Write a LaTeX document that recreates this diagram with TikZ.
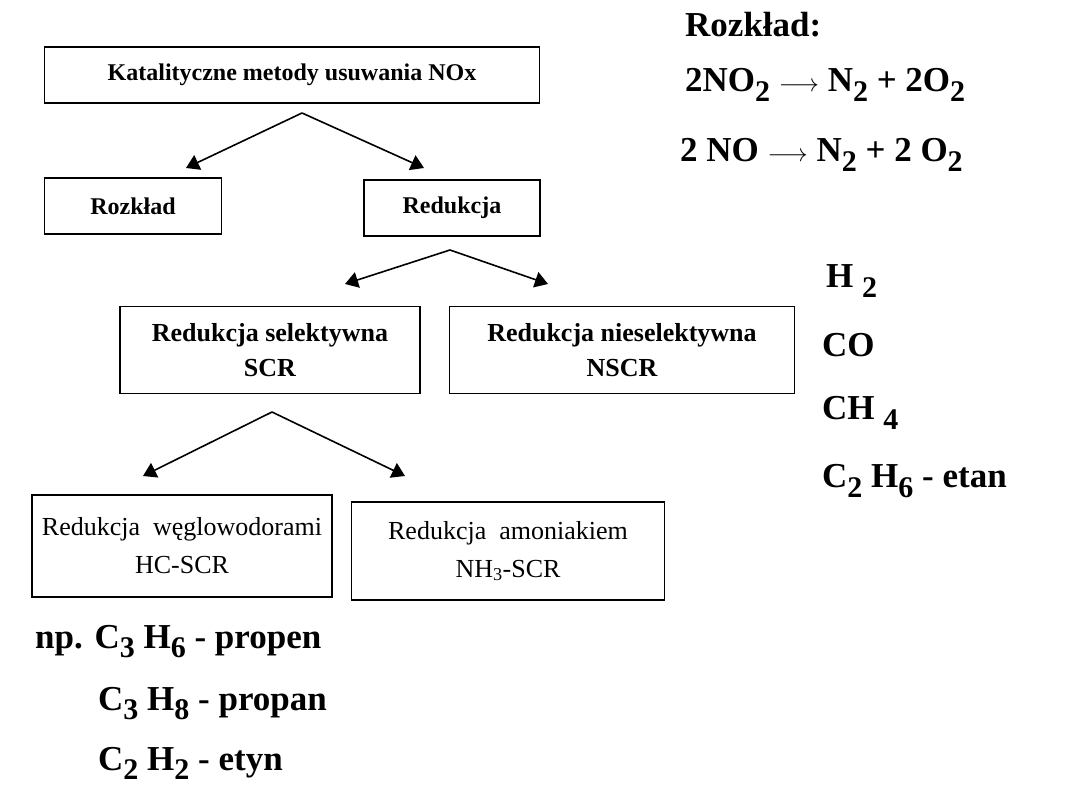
\documentclass[tikz,border=0pt]{standalone}
\usepackage{fontspec}
\setmainfont{Liberation Serif}
\usetikzlibrary{arrows.meta, positioning, calc}

\newcommand{\ind}[1]{\raisebox{-0.28em}{\fontsize{30}{30}\selectfont #1}}
\newcommand{\strz}{{\fontsize{27}{27}\selectfont$\longrightarrow$}}

\begin{document}
\begin{tikzpicture}[x=1pt, y=-1pt, >={Triangle[width=16pt,length=13pt]},
    box/.style={rectangle, draw, line width=1.6pt, align=center, inner sep=2pt},
    lvla/.style={font=\fontsize{24}{28}\selectfont\bfseries},
    lvlb/.style={font=\fontsize{26}{35}\selectfont\bfseries},
    lvlc/.style={font=\fontsize{26}{38}\selectfont},
    chem/.style={anchor=base west, inner sep=0pt, font=\fontsize{35}{40}\selectfont\bfseries},
    arr/.style={->, line width=1.6pt}]

\useasboundingbox (0,0) rectangle (1080,810);

% drzewo metod
\node[box, lvla, minimum width=495pt, minimum height=56pt] (kat) at (292,75) {Katalityczne metody usuwania NOx};
\node[box, lvla, minimum width=177pt, minimum height=56pt] (rozklad) at (133,206) {Rozkład};
\node[box, lvla, minimum width=176pt, minimum height=56pt] (redukcja) at (452,208) {Redukcja};
\node[box, lvlb, minimum width=300pt, minimum height=87pt] (scr) at (270,350) {Redukcja selektywna\\SCR};
\node[box, lvlb, minimum width=345pt, minimum height=87pt] (nscr) at (622,350) {Redukcja nieselektywna\\NSCR};
\node[box, lvlc, minimum width=300pt, minimum height=102pt] (hcscr) at (182,546) {Redukcja\ \ węglowodorami\\HC-SCR};
\node[box, lvlc, minimum width=313pt, minimum height=98pt] (nhscr) at (508,551) {Redukcja\ \ amoniakiem\\NH\textsubscript{3}-SCR};

\coordinate (katD) at (302,113);
\coordinate (rozU) at (186,168);
\coordinate (redU) at (424,168);
\coordinate (redD) at (450,250);
\coordinate (scrU) at (345,284);
\coordinate (nscrU) at (548,284);
\coordinate (scrD) at (272,412);
\coordinate (hcU) at (143,476);
\coordinate (nhU) at (405,476);

\draw[arr] (katD) -- (rozU);
\draw[arr] (katD) -- (redU);
\draw[arr] (redD) -- (scrU);
\draw[arr] (redD) -- (nscrU);
\draw[arr] (scrD) -- (hcU);
\draw[arr] (scrD) -- (nhU);

% reakcje i reduktory
\node[chem] (rozT) at (685,37) {Rozkład:};
\node[chem] (eq1) at (685,92) {2NO\ind{2} \strz{} N\ind{2} + 2O\ind{2}};
\node[chem] (eq2) at (680,162) {2 NO \strz{} N\ind{2} + 2 O\ind{2}};
\node[chem] (h2) at (826,288) {H \ind{2}};
\node[chem] (co) at (822,357) {CO};
\node[chem] (ch4) at (822,420) {CH \ind{4}};
\node[chem] (c2h6) at (822,488) {C\ind{2} H\ind{6} - etan};
\node[chem] (c3h6) at (35,648) {np. C\ind{3} H\ind{6} - propen};
\node[chem] (c3h8) at (98,710) {C\ind{3} H\ind{8} - propan};
\node[chem] (c2h2) at (98,770) {C\ind{2} H\ind{2} - etyn};

\end{tikzpicture}
\end{document}
